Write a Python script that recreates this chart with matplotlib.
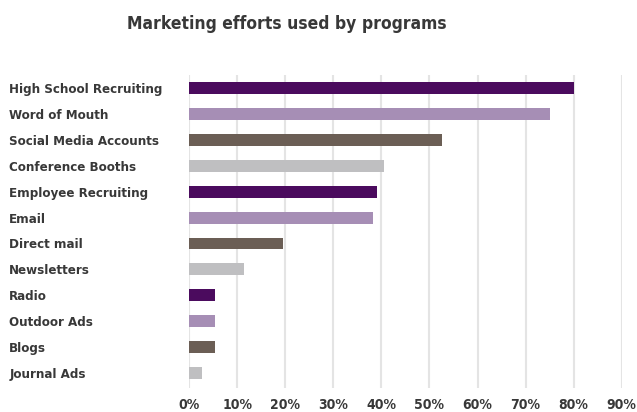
import matplotlib
matplotlib.use("Agg")
import matplotlib.pyplot as plt
from matplotlib.ticker import PercentFormatter

categories = ['High School Recruiting', 'Word of Mouth', 'Social Media Accounts',
              'Conference Booths', 'Employee Recruiting', 'Email', 'Direct mail',
              'Newsletters', 'Radio', 'Outdoor Ads', 'Blogs', 'Journal Ads']
values = [0.80, 0.75, 0.527, 0.406, 0.391, 0.383, 0.195, 0.115, 0.053, 0.053, 0.053, 0.027]
palette = ['#4b0b5e', '#a68eb5', '#6b5e55', '#bfbfc1']
colors = [palette[i % 4] for i in range(len(categories))]

plt.rcParams['font.family'] = ['DejaVu Sans']
plt.rcParams['font.stretch'] = 'condensed'
text_color = '#383838'

fig = plt.figure(figsize=(6.37, 4.12), dpi=100)
ax = fig.add_axes([0.297, 0.058, 0.679, 0.76])

ypos = list(range(len(categories)))
ax.barh(ypos, values, height=0.46, color=colors, zorder=3)

ax.set_xlim(0, 0.9)
ax.set_ylim(len(categories) - 0.42, -0.5)
ax.set_xticks([i / 10 for i in range(10)])
ax.xaxis.set_major_formatter(PercentFormatter(1.0, decimals=0))
ax.set_yticks(ypos)
ax.set_yticklabels(categories)
for lab in ax.get_yticklabels():
    lab.set_horizontalalignment('left')
ax.tick_params(axis='y', length=0, pad=129.6, labelsize=9.5, labelcolor=text_color)
ax.tick_params(axis='x', length=0, pad=7, labelsize=10, labelcolor=text_color)
for lab in ax.get_xticklabels() + ax.get_yticklabels():
    lab.set_fontweight('bold')

ax.grid(axis='x', color='#e4e4e4', linewidth=1.5, zorder=0)
for s in ax.spines.values():
    s.set_visible(False)

fig.text(0.451, 0.942, 'Marketing efforts used by programs', ha='center', va='center',
         fontsize=12.5, fontweight='bold', color=text_color)

fig.savefig('out.png', dpi=100)
